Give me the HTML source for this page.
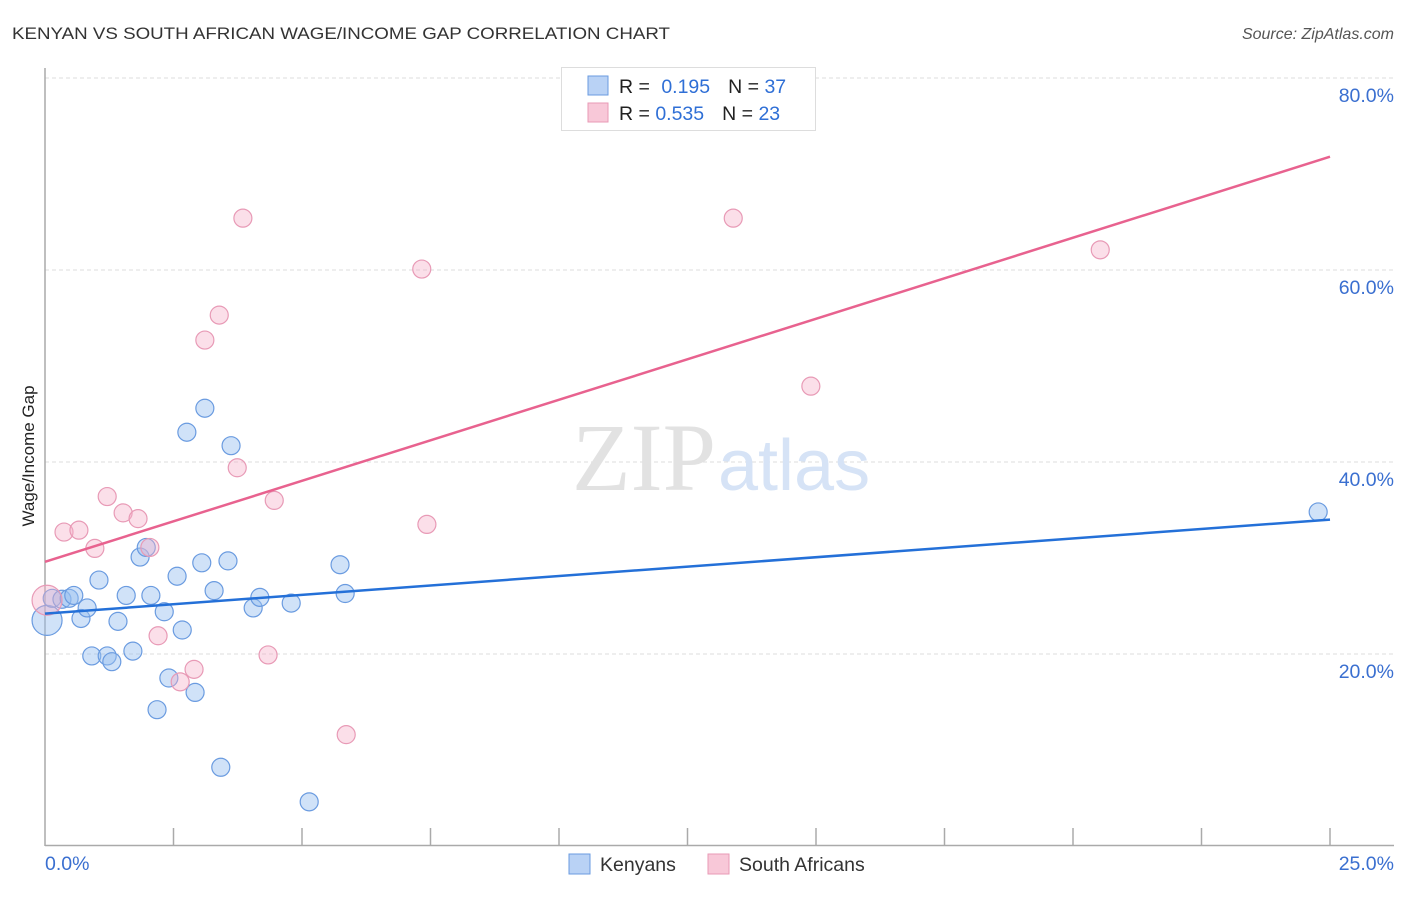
<!DOCTYPE html>
<html><head><meta charset="utf-8"><style>
body{margin:0;background:#fff;font-family:"Liberation Sans",sans-serif;}
svg text{font-family:"Liberation Sans",sans-serif;}
</style></head><body>
<svg width="1406" height="892" viewBox="0 0 1406 892">
<text x="12" y="39" font-size="17" fill="#333" textLength="658" lengthAdjust="spacingAndGlyphs">KENYAN VS SOUTH AFRICAN WAGE/INCOME GAP CORRELATION CHART</text>
<text x="1394" y="39" font-size="16" fill="#555" font-style="italic" text-anchor="end">Source: ZipAtlas.com</text>
<g id="grid"></g>
<text x="716" y="490" font-size="96" fill="#e2e2e2" text-anchor="end" font-family="Liberation Serif" style="font-family:'Liberation Serif',serif">ZIP</text>
<text x="718" y="490" font-size="72" fill="#d6e3f6">atlas</text>
<line x1="45" y1="68" x2="45" y2="846" stroke="#aaa" stroke-width="1.5"/>
<line x1="45" y1="845.5" x2="1394" y2="845.5" stroke="#aaa" stroke-width="1.5"/>
<g id="xticks"></g>
<g id="points"></g>
<g id="trends"></g>
<text transform="translate(34,456) rotate(-90)" font-size="17" fill="#222" text-anchor="middle">Wage/Income Gap</text>
<text x="45" y="870" font-size="19.5" fill="#3a6fd0">0.0%</text>
<text x="1394" y="870" font-size="19.5" fill="#3a6fd0" text-anchor="end">25.0%</text>
<g>
<rect x="561.5" y="67.5" width="254" height="63" fill="#fff" stroke="#ddd"/>
<rect x="588" y="76" width="20" height="19" fill="#b9d2f5" stroke="#6a9be0"/>
<rect x="588" y="103" width="20" height="19" fill="#f8c8d8" stroke="#e89ab6"/>
<text x="619" y="93" font-size="19.5" fill="#222">R = <tspan fill="#2f6fd6" dx="6">0.195</tspan><tspan dx="18">N = </tspan><tspan fill="#2f6fd6">37</tspan></text>
<text x="619" y="120" font-size="19.5" fill="#222">R = <tspan fill="#2f6fd6">0.535</tspan><tspan dx="18">N = </tspan><tspan fill="#2f6fd6">23</tspan></text>
</g>
<rect x="569" y="854" width="21" height="20" fill="#b9d2f5" stroke="#6a9be0"/>
<text x="600" y="871" font-size="19.5" fill="#333">Kenyans</text>
<rect x="708" y="854" width="21" height="20" fill="#f8c8d8" stroke="#e89ab6"/>
<text x="739" y="871" font-size="19.5" fill="#333">South Africans</text>
</svg>
<script>
const yTicks=[20,40,60,80];
const yTickLabels=["20.0%","40.0%","60.0%","80.0%"];
const xTickVals=[2.5,5,7.5,10,12.5,15,17.5,20,22.5,25];
const kenX=[0.04,0.14,0.33,0.47,0.56,0.70,0.82,0.91,1.05,1.21,1.30,1.42,1.58,1.71,1.85,1.97,2.06,2.18,2.32,2.41,2.57,2.67,2.76,2.92,3.05,3.11,3.29,3.42,3.56,3.62,4.05,4.18,4.79,5.14,5.74,5.84,24.77];
const kenY=[23.5,25.8,25.7,25.8,26.1,23.7,24.8,19.8,27.7,19.8,19.2,23.4,26.1,20.3,30.1,31.1,26.1,14.2,24.4,17.5,28.1,22.5,43.1,16.0,29.5,45.6,26.6,8.2,29.7,41.7,24.8,25.9,25.3,4.6,29.3,26.3,34.8];
const saX=[0.04,0.37,0.66,0.97,1.21,1.52,1.81,2.04,2.20,2.63,2.90,3.11,3.39,3.74,3.85,4.34,4.46,5.86,7.33,7.43,13.39,14.90,20.53];
const saY=[25.6,32.7,32.9,31.0,36.4,34.7,34.1,31.1,21.9,17.1,18.4,52.7,55.3,39.4,65.4,19.9,36.0,11.6,60.1,33.5,65.4,47.9,62.1];
const kenTrend=[24.2,34.0];
const saTrend=[29.6,71.8];
const NS="http://www.w3.org/2000/svg";
function sx(v){return 45+v*51.4;}
function sy(v){return 846-v*9.6;}
function mk(t,a){const e=document.createElementNS(NS,t);for(const k in a)e.setAttribute(k,a[k]);return e;}
const grid=document.getElementById('grid');
yTicks.forEach((v,i)=>{
 const l=mk('line',{x1:45,x2:1394,y1:sy(v),y2:sy(v),stroke:'#ddd','stroke-dasharray':'4,3'});
 
 
 grid.appendChild(l);
 const t=mk('text',{x:1394,y:sy(v)+24,'font-size':19.5,fill:'#3a6fd0','text-anchor':'end'});
 t.textContent=yTickLabels[i];
 
 
 grid.appendChild(t);
});
const xt=document.getElementById('xticks');
xTickVals.forEach(v=>{
 const l=mk('line',{x1:sx(v),x2:sx(v),y1:828,y2:845,stroke:'#aaa','stroke-width':1.5});
 
 
 xt.appendChild(l);
});
const pts=document.getElementById('points');
function draw(X,Y,fill,stroke,name){
 X.forEach((x,i)=>{
  const r=(x<0.1)?15:9;
  const c=mk('circle',{cx:sx(x),cy:sy(Y[i]),r:r,fill:fill,stroke:stroke,'stroke-width':1.2});
  
  
  pts.appendChild(c);
 });
}
draw(kenX,kenY,'rgba(150,190,240,0.45)','#6a9be0','kenyan-point');
draw(saX,saY,'rgba(244,176,200,0.4)','#e89ab6','south-african-point');
const tr=document.getElementById('trends');
const l1=mk('line',{x1:sx(0),y1:sy(kenTrend[0]),x2:sx(25),y2:sy(kenTrend[1]),stroke:'#2470d8','stroke-width':2.5});


tr.appendChild(l1);
const l2=mk('line',{x1:sx(0),y1:sy(saTrend[0]),x2:sx(25),y2:sy(saTrend[1]),stroke:'#e8628f','stroke-width':2.5});


tr.appendChild(l2);
</script>
</body></html>
